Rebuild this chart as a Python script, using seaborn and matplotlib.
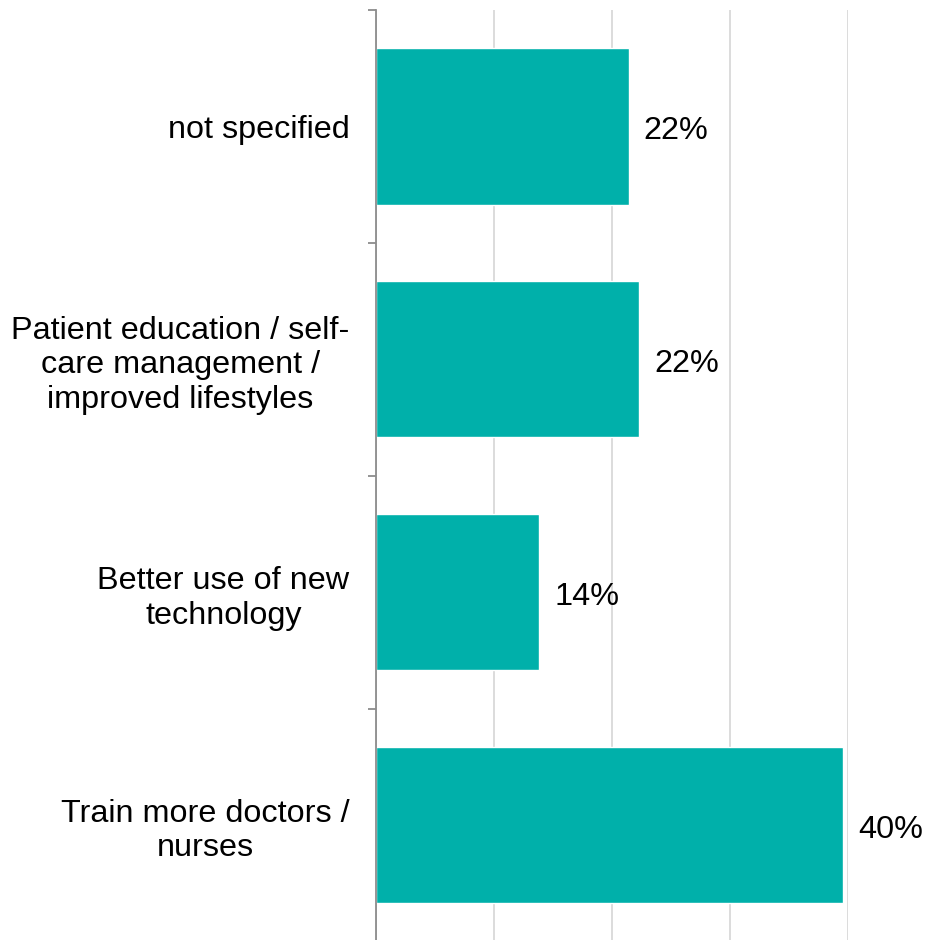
import pandas as pd
import seaborn as sns
import matplotlib.pyplot as plt

# Data
categories = ['not specified',
              'Patient education / self-\ncare management /\nimproved lifestyles',
              'Better use of new\ntechnology',
              'Train more doctors /\nnurses']
shares = [0.214, 0.223, 0.138, 0.396]
value_labels = ['22%', '22%', '14%', '40%']

df = pd.DataFrame({'category': categories, 'share': shares})

sns.set_style('white')
plt.rcParams['font.family'] = ['Liberation Sans', 'DejaVu Sans']

fig = plt.figure(figsize=(9.52, 9.40), dpi=100)
ax = fig.add_axes([376 / 952, -0.002, (848 - 376) / 952, 1 - 10 / 940 + 0.002])

sns.barplot(data=df, x='share', y='category', color='#00B0AA', width=0.67,
            saturation=1, ax=ax, zorder=3)

ax.set_xlim(0, 0.4)
ax.set_ylim(3.5, -0.5)
ax.set_xticks([0, 0.1, 0.2, 0.3, 0.4])
ax.set_xticklabels([])
ax.tick_params(axis='x', length=0)
ax.grid(axis='x', color='#d9d9d9', linewidth=1.3, zorder=0)
ax.set_xlabel('')
ax.set_ylabel('')

for s in ['top', 'right', 'bottom']:
    ax.spines[s].set_visible(False)
ax.spines['left'].set_color('#8c8c8c')
ax.spines['left'].set_linewidth(1.3)
ax.spines['left'].set_zorder(4)

# category boundary ticks on the left axis
ax.set_yticks([-0.5, 0.5, 1.5, 2.5, 3.5], minor=True)
ax.tick_params(axis='y', which='minor', left=True, length=6, width=1.3,
               color='#8c8c8c')
ax.tick_params(axis='y', which='major', length=0, pad=19, labelsize=23.3,
               labelcolor='black')
for lbl in ax.get_yticklabels():
    lbl.set_multialignment('center')

for i, (v, t) in enumerate(zip(shares, value_labels)):
    ax.annotate(t, xy=(v, i), xytext=(11, -3), textcoords='offset points',
                va='center', ha='left', fontsize=23.3, color='black')

plt.savefig('out.png', dpi=100)
